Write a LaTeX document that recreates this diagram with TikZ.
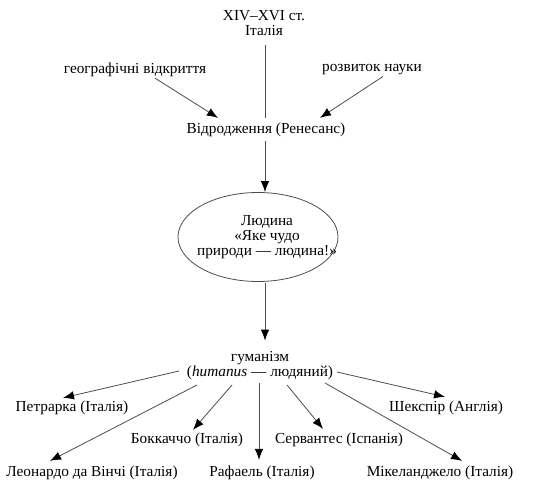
\documentclass[tikz,border=0pt]{standalone}
\usepackage{fontspec}
\setmainfont{Liberation Serif}
\usetikzlibrary{arrows.meta,shapes.geometric}
\begin{document}
\begin{tikzpicture}[x=1pt,y=-1pt,
  lbl/.style={inner sep=1pt,font=\fontsize{15.3}{17}\selectfont,align=center},
  ln/.style={draw=black!70,line width=0.8pt},
  arr/.style={ln,-{Latex[length=11pt,width=8.5pt,fill=black,color=black]}}]
\useasboundingbox (0,0) rectangle (536,495);
\node[lbl] (top) at (264,23) {XIV–XVI ст.\\[-2pt]Італія};
\node[lbl] (geo) at (135,70) {географічні відкриття};
\node[lbl] (nauk) at (372,70) {розвиток науки};
\node[lbl] (vid) at (266,130) {Відродження (Ренесанс)};
\node[ellipse,draw=black!70,line width=0.8pt,minimum width=160pt,minimum height=89pt,inner sep=0pt] (ell) at (258,237) {};
\node[lbl] (lud) at (267,237) {Людина\\[-2pt]«Яке чудо\\[-2pt]природи — людина!»};
\node[lbl] (hum) at (260,366) {гуманізм\\[-2pt](\textit{humanus} — людяний)};
\node[lbl] (petr) at (72,408) {Петрарка (Італія)};
\node[lbl] (shek) at (446,408) {Шекспір (Англія)};
\node[lbl] (bokk) at (187,440) {Боккаччо (Італія)};
\node[lbl] (serv) at (339,440) {Сервантес (Іспанія)};
\node[lbl] (leon) at (92,473) {Леонардо да Вінчі (Італія)};
\node[lbl] (raf) at (262,473) {Рафаель (Італія)};
\node[lbl] (mik) at (440,473) {Мікеланджело (Італія)};
\coordinate (ellb) at (265,283);
\coordinate (hp) at (179,371);
\coordinate (hs) at (337,372);
\coordinate (hb) at (232,385);
\coordinate (hc) at (287,385);
\coordinate (hr) at (259,383);
\coordinate (hl) at (197,385);
\coordinate (hm) at (325,383);
\draw[ln] ([yshift=-8pt]top.south -| 265,0) -- ([yshift=4pt]vid.north -| 265,0);
\draw[arr] ([xshift=20pt]geo.south) -- ([xshift=-48pt,yshift=4pt]vid.north);
\draw[arr] ([xshift=11pt]nauk.south) -- ([xshift=54pt,yshift=4pt]vid.north);
\draw[arr] ([yshift=-3pt]vid.south -| 265,0) -- (ell.north -| 265,0);
\draw[arr] (ellb) -- ([yshift=10pt]hum.north -| 265,0);
\draw[arr] (hp) -- ([xshift=-9pt,yshift=2pt]petr.north);
\draw[arr] (hs) -- ([xshift=-1pt,yshift=3pt]shek.north);
\draw[arr] (hb) -- ([xshift=6pt,yshift=2pt]bokk.north);
\draw[arr] (hc) -- ([xshift=-16pt,yshift=3pt]serv.north);
\draw[arr] (hr) -- ([yshift=5pt]raf.north -| hr);
\draw[arr] (hl) -- ([xshift=-42pt,yshift=4pt]leon.north);
\draw[arr] (hm) -- ([xshift=22pt,yshift=4pt]mik.north);
\end{tikzpicture}
\end{document}
